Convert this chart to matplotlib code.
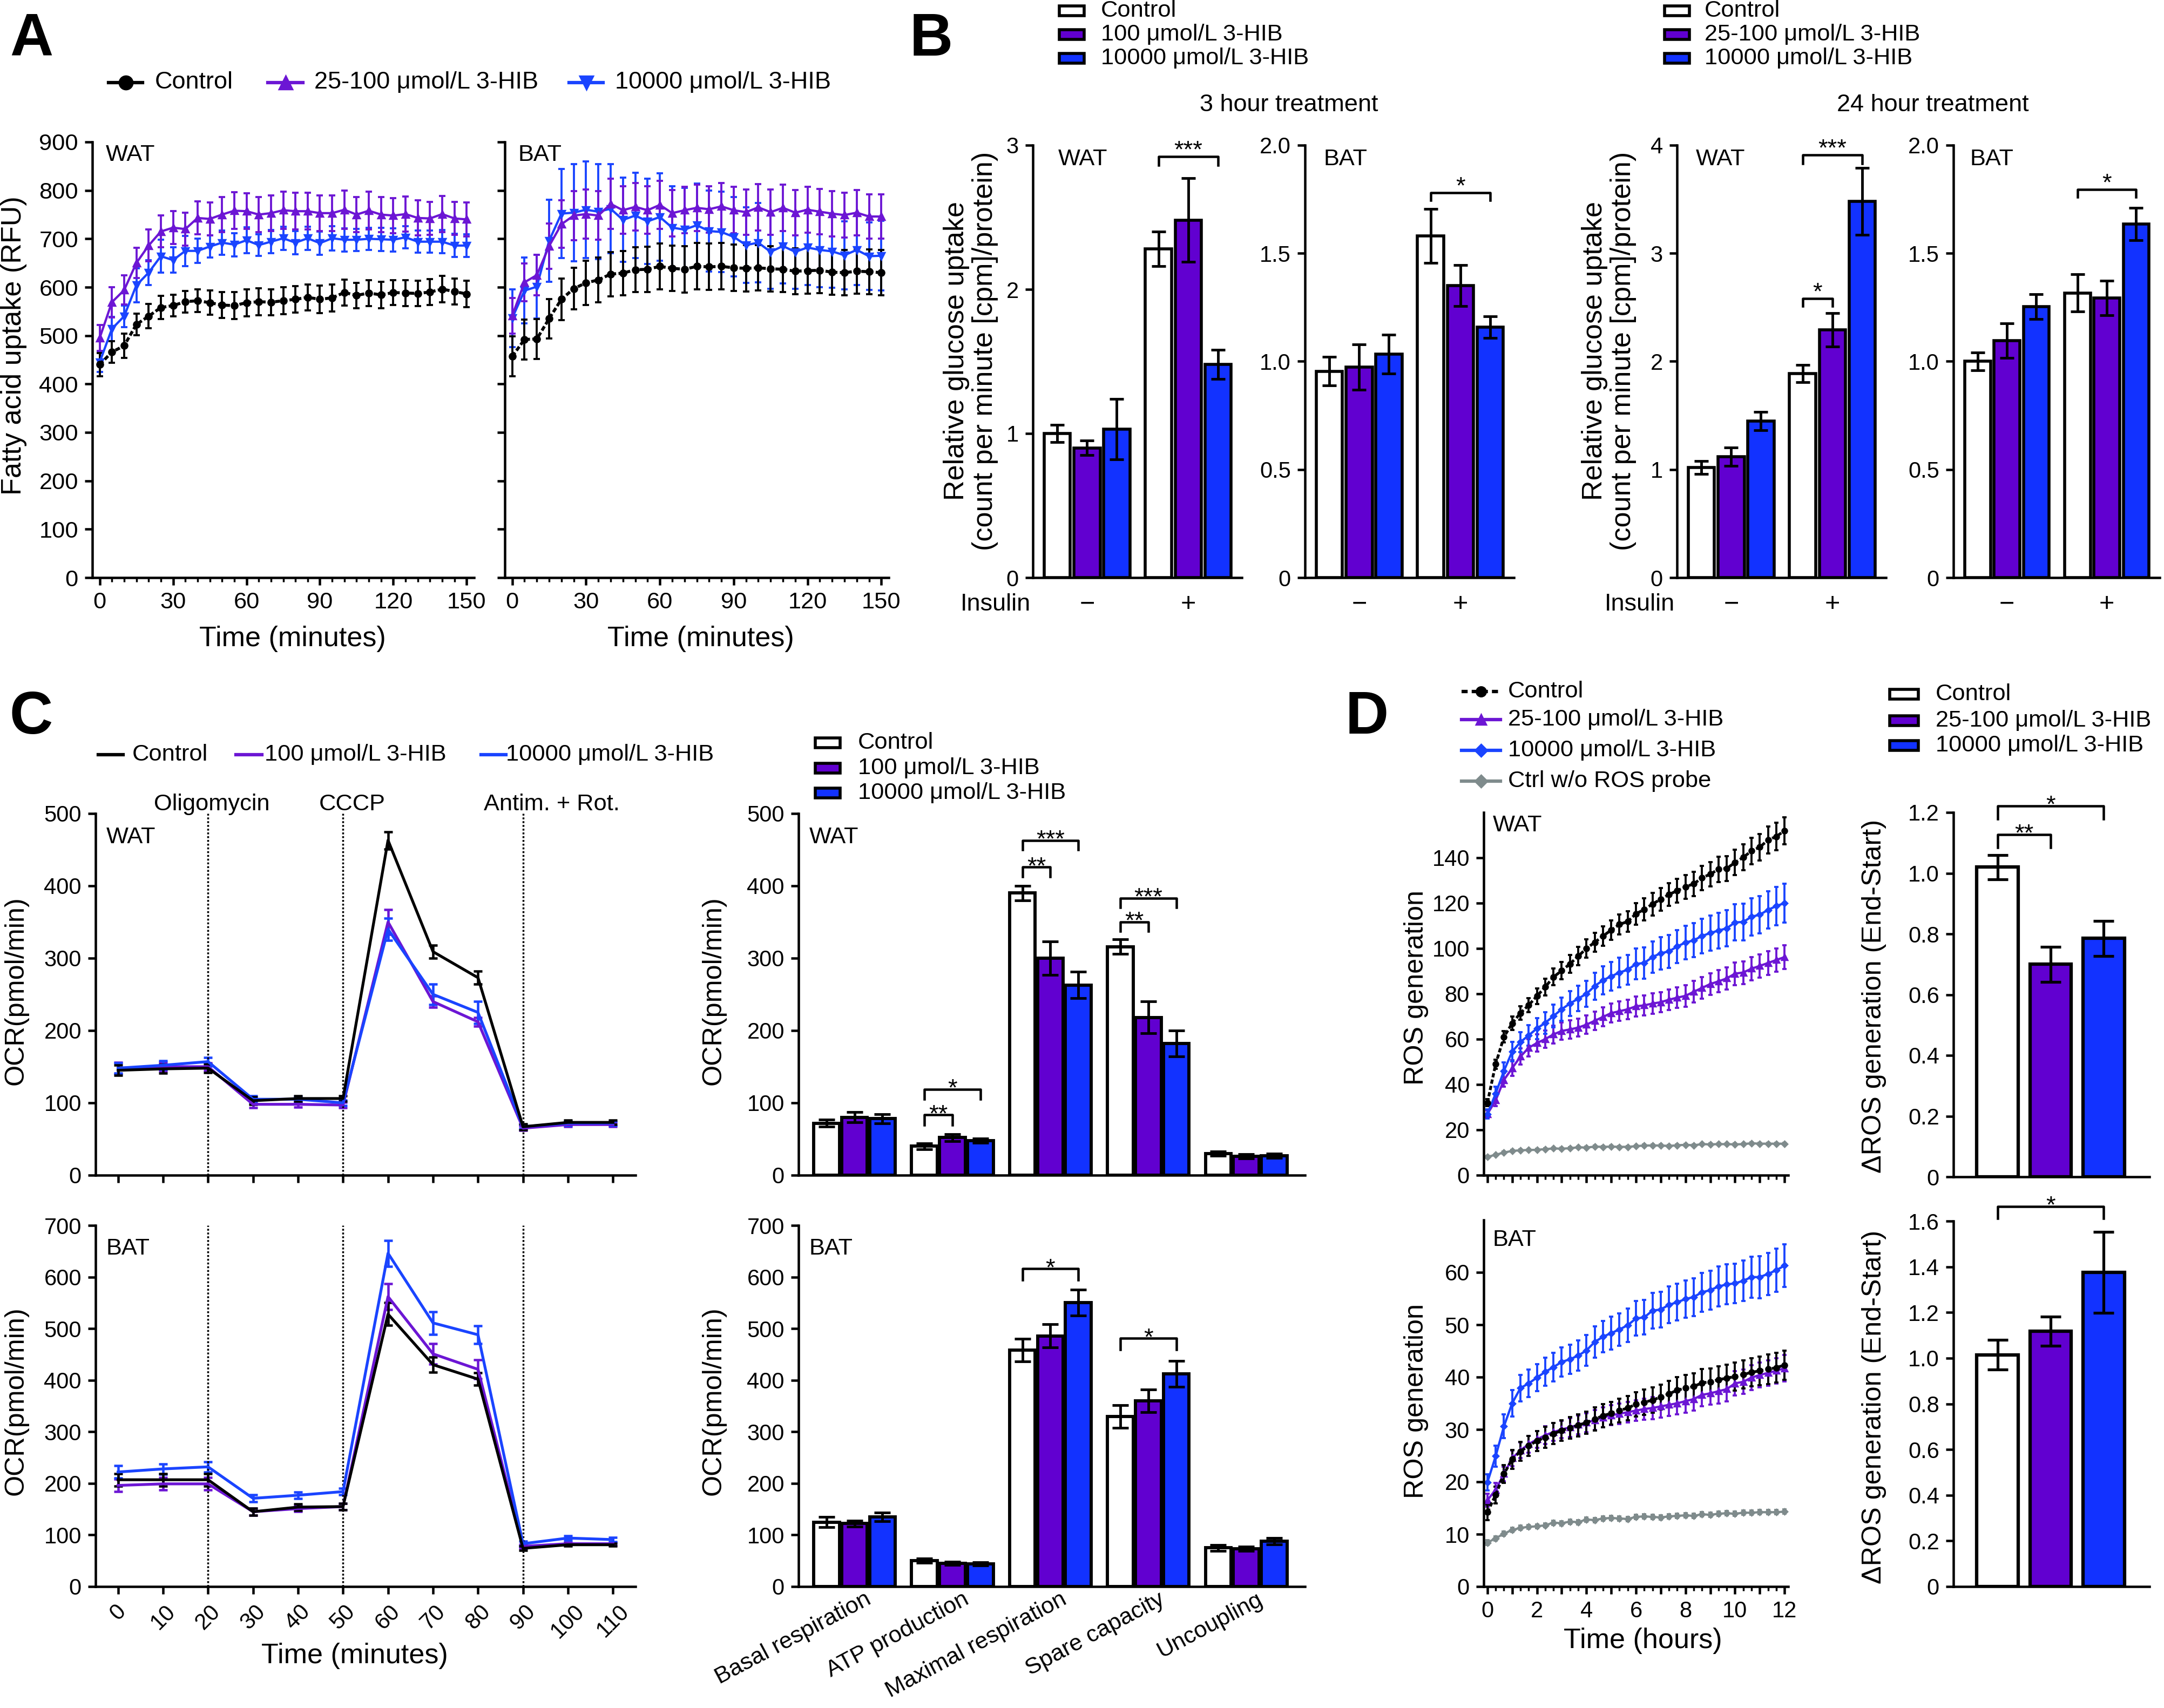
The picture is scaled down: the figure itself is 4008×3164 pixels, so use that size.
import numpy as np
import matplotlib
matplotlib.use('Agg')
import matplotlib.pyplot as plt
from matplotlib.patches import Rectangle
from matplotlib.lines import Line2D
from matplotlib.ticker import MultipleLocator

plt.rcParams['font.family'] = ['Liberation Sans', 'DejaVu Sans']
plt.rcParams['axes.linewidth'] = 1.3
plt.rcParams['xtick.major.width'] = 1.3
plt.rcParams['ytick.major.width'] = 1.3
plt.rcParams['xtick.minor.width'] = 1.0
plt.rcParams['ytick.minor.width'] = 1.0
plt.rcParams['xtick.major.size'] = 4
plt.rcParams['ytick.major.size'] = 4

# ---------------- data ----------------
# A: fatty acid uptake (RFU), every 5 min
t_fa = np.arange(0, 151, 5)
fa_wat_ctrl = [440, 466, 479, 523, 540, 558, 562, 570, 572, 568, 563, 562, 568, 570, 569, 572,
               575, 579, 575, 578, 589, 583, 588, 584, 589, 588, 587, 590, 596, 591, 586]
fa_wat_ctrl_err = [24, 22, 25, 22, 25, 24, 22, 22, 23, 25, 27, 28, 28, 28, 27, 28,
                   27, 27, 28, 28, 27, 26, 27, 27, 26, 27, 26, 27, 27, 27, 27]
fa_wat_low = [495, 569, 594, 650, 686, 715, 723, 720, 743, 741, 750, 758, 757, 750, 753, 759,
              757, 757, 753, 753, 760, 750, 758, 750, 748, 751, 743, 742, 751, 742, 740]
fa_wat_low_err = [27, 31, 30, 31, 33, 33, 34, 34, 34, 34, 36, 38, 37, 36, 37, 38,
                  38, 38, 37, 37, 40, 36, 39, 36, 36, 36, 36, 34, 37, 34, 35]
fa_wat_high = [445, 514, 540, 604, 630, 664, 656, 675, 675, 684, 692, 688, 697, 687, 694, 701,
               692, 701, 691, 701, 698, 698, 700, 699, 698, 703, 694, 694, 694, 686, 686]
fa_wat_high_err = [20, 25, 22, 35, 26, 34, 26, 31, 25, 23, 25, 24, 27, 22, 24, 24,
                   24, 24, 24, 25, 24, 23, 23, 24, 24, 23, 23, 23, 24, 24, 23]
fa_bat_ctrl = [457, 492, 493, 535, 575, 597, 609, 615, 627, 629, 636, 637, 643, 639, 637, 643,
               642, 643, 640, 639, 640, 638, 637, 633, 634, 635, 631, 630, 633, 632, 630]
fa_bat_ctrl_err = [41, 41, 41, 41, 43, 43, 46, 46, 46, 46, 46, 47, 47, 47, 48, 48,
                   48, 48, 48, 48, 47, 47, 47, 47, 47, 47, 47, 47, 46, 46, 47]
fa_bat_low = [541, 610, 625, 685, 730, 748, 751, 748, 772, 759, 766, 759, 770, 753, 759, 764,
              761, 767, 759, 755, 765, 755, 764, 754, 760, 756, 752, 749, 754, 746, 746]
fa_bat_low_err = [37, 39, 42, 47, 49, 51, 51, 50, 52, 49, 49, 49, 50, 48, 48, 48,
                  48, 48, 48, 47, 48, 47, 48, 47, 47, 47, 47, 46, 47, 46, 46]
fa_bat_high = [536, 593, 601, 696, 752, 754, 760, 756, 762, 739, 748, 736, 745, 723, 719, 728,
               716, 714, 704, 687, 692, 673, 685, 673, 682, 677, 674, 666, 677, 664, 665]
fa_bat_high_err = [60, 68, 66, 85, 92, 100, 100, 98, 92, 87, 88, 88, 90, 86, 86, 86,
                   84, 83, 82, 78, 82, 76, 77, 76, 77, 77, 75, 70, 72, 70, 72]

# B: glucose uptake, order Ctrl/low/high (insulin -) then Ctrl/low/high (insulin +)
gu3_wat = [1.00, 0.90, 1.03, 2.28, 2.48, 1.48]
gu3_wat_err = [0.06, 0.05, 0.21, 0.12, 0.29, 0.10]
gu3_bat = [0.955, 0.973, 1.033, 1.58, 1.35, 1.158]
gu3_bat_err = [0.067, 0.105, 0.09, 0.125, 0.095, 0.05]
gu24_wat = [1.02, 1.12, 1.45, 1.89, 2.29, 3.48]
gu24_wat_err = [0.06, 0.085, 0.085, 0.08, 0.155, 0.31]
gu24_bat = [1.00, 1.095, 1.254, 1.317, 1.294, 1.636]
gu24_bat_err = [0.04, 0.08, 0.058, 0.085, 0.08, 0.075]

# C: OCR time course
t_ocr = [0, 10, 20, 30, 40, 50, 60, 70, 80, 90, 100, 110]
ocr_wat_ctrl = [145, 147, 148, 103, 106, 106, 463, 309, 273, 67, 73, 73]
ocr_wat_ctrl_err = [7, 6, 6, 5, 4, 4, 12, 9, 9, 4, 3, 3]
ocr_wat_low = [148, 150, 150, 98, 98, 97, 350, 240, 212, 65, 70, 70]
ocr_wat_low_err = [8, 6, 5, 5, 4, 4, 17, 8, 6, 3, 3, 3]
ocr_wat_high = [148, 152, 157, 105, 105, 100, 340, 250, 225, 67, 72, 72]
ocr_wat_high_err = [7, 6, 6, 5, 4, 4, 15, 14, 15, 3, 3, 3]
ocr_bat_ctrl = [207, 207, 207, 145, 154, 155, 528, 430, 402, 74, 81, 81]
ocr_bat_ctrl_err = [12, 12, 12, 7, 6, 6, 22, 15, 12, 4, 3, 3]
ocr_bat_low = [196, 199, 199, 145, 151, 155, 562, 451, 421, 78, 83, 83]
ocr_bat_low_err = [12, 12, 12, 7, 6, 6, 25, 20, 18, 4, 3, 3]
ocr_bat_high = [222, 228, 232, 171, 177, 184, 646, 511, 488, 83, 94, 91]
ocr_bat_high_err = [12, 10, 10, 7, 6, 6, 25, 22, 17, 5, 4, 4]

# C: OCR parameters
resp_labels = ['Basal respiration', 'ATP production', 'Maximal respiration',
               'Spare capacity', 'Uncoupling']
par_wat_ctrl = [72, 40, 390, 316, 30]
par_wat_ctrl_err = [5, 4, 10, 10, 3]
par_wat_low = [80, 52, 300, 218, 26]
par_wat_low_err = [7, 5, 23, 22, 3]
par_wat_high = [78, 48, 263, 182, 27]
par_wat_high_err = [6, 3, 18, 18, 3]
par_bat_ctrl = [125, 50, 458, 330, 75]
par_bat_ctrl_err = [10, 4, 22, 22, 6]
par_bat_low = [122, 45, 486, 360, 73]
par_bat_low_err = [6, 3, 22, 22, 4]
par_bat_high = [135, 44, 550, 412, 88]
par_bat_high_err = [8, 3, 25, 25, 6]

# D: ROS generation, every 20 min over 12 h
t_ros = np.linspace(0, 12, 37)
ros_wat_ctrl = [32, 49, 61, 67, 71.5, 75, 79, 83, 87.4, 90.2, 93.2, 96.6, 100, 102.7, 105.5, 108.1,
                110.6, 111.9, 115.3, 117.2, 119.6, 121.7, 123.8, 125.5, 127.2, 128.5, 131.1, 132.8,
                134.9, 135.3, 137.9, 140.2, 143, 144.7, 147.8, 149.4, 151.9]
ros_wat_ctrl_err = [1.5, 2, 2.5, 3, 3, 3.2, 3.5, 3.6, 3.7, 3.8, 3.9, 4, 4.1, 4.2, 4.3, 4.4, 4.5, 4.6,
                    4.8, 4.9, 5, 5, 5.1, 5.2, 5.2, 5.3, 5.4, 5.4, 5.5, 5.5, 5.6, 5.7, 5.8, 5.8, 5.9, 6, 6]
ros_wat_low = [27, 33, 42, 47.2, 52.3, 56.2, 58.3, 60, 62.1, 63.6, 64.3, 65.1, 66.4, 68.1, 69.8, 71.5,
               72.3, 73.2, 74.5, 74.9, 75.7, 76.3, 77.4, 78.3, 79.1, 80.9, 82.6, 84.3, 85.5, 86.8,
               88.9, 89.4, 91.1, 92.3, 93.6, 94.9, 96.2]
ros_wat_low_err = [1.5, 2.5, 3, 3.4, 3.6, 3.7, 3.8, 3.8, 3.9, 3.9, 4, 4, 4.1, 4.1, 4.2, 4.2, 4.3, 4.3,
                   4.4, 4.4, 4.5, 4.5, 4.6, 4.6, 4.7, 4.7, 4.8, 4.8, 4.9, 4.9, 5, 5, 5.1, 5.1, 5.2, 5.2, 5.3]
ros_wat_high = [27, 36, 46, 54.5, 58.7, 61.7, 64.7, 67.2, 70.2, 73.2, 75.7, 77.9, 80, 83.4, 86, 87.7,
                89.4, 90.6, 93.2, 93.6, 96.2, 97.9, 98.7, 100.9, 102.6, 103.6, 105.5, 106.8, 107.9,
                108.9, 111.5, 111.7, 114, 114.9, 117, 118.7, 120]
ros_wat_high_err = [2, 3, 3.8, 4.3, 4.5, 4.5, 4.6, 4.8, 5, 5.2, 5.4, 5.6, 5.8, 6, 6.2, 6.3, 6.5, 6.6,
                    6.8, 6.9, 7, 7.1, 7.2, 7.3, 7.4, 7.5, 7.6, 7.7, 7.8, 7.9, 8, 8.1, 8.2, 8.3, 8.3, 8.4, 8.5]
ros_wat_noprobe = [8.1, 9, 10, 10.7, 11, 11.1, 11.2, 11.5, 11.8, 11.7, 11.9, 12.3, 12.2, 12.6, 12.5,
                   12.6, 12.5, 12.5, 12.8, 13.1, 13.1, 13.1, 12.9, 13.2, 13.4, 13.2, 13.7, 13.6, 13.7,
                   13.7, 13.6, 13.7, 14.1, 13.9, 13.9, 13.9, 13.9]
ros_wat_noprobe_err = [0.5, 0.4, 0.4, 0.4, 0.4, 0.4, 0.4, 0.4, 0.4, 0.4, 0.4, 0.4, 0.4, 0.4, 0.4, 0.4,
                       0.4, 0.4, 0.4, 0.4, 0.4, 0.4, 0.4, 0.4, 0.4, 0.4, 0.4, 0.4, 0.4, 0.4, 0.4, 0.4,
                       0.4, 0.4, 0.4, 0.4, 0.4]
ros_bat_ctrl = [14.2, 17.5, 21.5, 24.3, 25.8, 26.9, 27.8, 28.5, 29.2, 29.8, 30.3, 30.8, 31.3, 32, 32.6,
                33.1, 33.6, 34.1, 34.8, 35.2, 35.6, 36.2, 36.8, 37.5, 37.9, 38.2, 38.9, 39.1, 39.5,
                39.8, 40.1, 40.5, 40.9, 41.2, 41.5, 41.8, 42.3]
ros_bat_ctrl_err = [1.5, 1.6, 1.7, 1.8, 1.8, 1.9, 1.9, 2, 2, 2, 2.1, 2.1, 2.1, 2.2, 2.2, 2.2, 2.3, 2.3,
                    2.3, 2.4, 2.4, 2.4, 2.5, 2.5, 2.5, 2.5, 2.6, 2.6, 2.6, 2.6, 2.7, 2.7, 2.7, 2.7, 2.8, 2.8, 2.8]
ros_bat_low = [16.5, 18.5, 21.5, 24.5, 26, 27.2, 28.1, 28.9, 29.5, 30, 30.4, 30.9, 31.3, 31.8, 32.3,
               32.7, 33, 33.3, 33.6, 33.9, 34.1, 34.4, 34.7, 35, 35.4, 35.8, 36.6, 36.9, 37.3, 37.7,
               38.8, 39.1, 39.9, 40.4, 40.8, 41.2, 41.7]
ros_bat_low_err = [1.2, 1.3, 1.4, 1.5, 1.5, 1.6, 1.6, 1.7, 1.7, 1.7, 1.8, 1.8, 1.8, 1.9, 1.9, 1.9, 2,
                   2, 2, 2, 2.1, 2.1, 2.1, 2.1, 2.2, 2.2, 2.2, 2.2, 2.3, 2.3, 2.3, 2.3, 2.4, 2.4, 2.4, 2.4, 2.5]
ros_bat_high = [19.9, 24.9, 30.6, 35, 37.9, 38.8, 39.9, 41, 41.9, 42.9, 43.4, 44.1, 45.1, 46.7, 47.7,
                48.4, 49.1, 49.9, 51.2, 51.4, 52.7, 52.9, 53.8, 54.3, 54.9, 55.3, 56.2, 56.6, 57.3,
                57.7, 57.9, 58.4, 59.1, 59.1, 59.7, 60.4, 61.3]
ros_bat_high_err = [1.5, 2, 2.3, 2.5, 2.5, 2.6, 2.6, 2.7, 2.7, 2.8, 2.8, 2.9, 2.9, 3, 3, 3.1, 3.1, 3.2,
                    3.3, 3.3, 3.4, 3.4, 3.5, 3.5, 3.6, 3.6, 3.7, 3.7, 3.8, 3.8, 3.8, 3.9, 3.9, 4, 4, 4.1, 4.1]
ros_bat_noprobe = [8.4, 9.2, 10.1, 10.8, 11.2, 11.4, 11.5, 11.7, 12.2, 12.1, 12.4, 12.3, 12.8, 12.7,
                   13, 13.1, 13, 12.9, 13.3, 13.4, 13.3, 13.2, 13.4, 13.5, 13.6, 13.5, 13.8, 13.7,
                   13.9, 14, 13.9, 14.1, 14.1, 14.2, 14.2, 14.2, 14.3]
ros_bat_noprobe_err = ros_wat_noprobe_err

# D: delta ROS (end - start), order Ctrl/low/high
dros_wat = [1.02, 0.70, 0.785]
dros_wat_err = [0.04, 0.058, 0.057]
dros_bat = [1.015, 1.118, 1.375]
dros_bat_err = [0.065, 0.063, 0.177]

# ---------------- style ----------------
PURPLE_L = '#6c16d4'
BLUE_L = '#1a44ff'
PURPLE_B = '#6100d0'
BLUE_B = '#1232ff'
GREY = '#7f8b8c'
W, H, DPI = 4008, 3164, 250

fig = plt.figure(figsize=(W / DPI, H / DPI), dpi=DPI)
fig.patch.set_facecolor('white')


def fx(x):
    return x / W


def fy(y):
    return 1 - y / H


def new_ax(x0, y0, x1, y1):
    ax = fig.add_axes([x0 / W, 1 - y1 / H, (x1 - x0) / W, (y1 - y0) / H])
    ax.spines['top'].set_visible(False)
    ax.spines['right'].set_visible(False)
    ax.patch.set_alpha(0)
    return ax


def ftext(x, y, s, **kw):
    fig.text(fx(x), fy(y), s, **kw)


def leg_line(x0, x1, y, color, ls='-', marker=None, ms=7, lw=1.8):
    fig.add_artist(Line2D([fx(x0), fx(x1)], [fy(y), fy(y)], transform=fig.transFigure,
                          color=color, ls=ls, lw=lw))
    if marker:
        fig.add_artist(Line2D([fx((x0 + x1) / 2)], [fy(y)], transform=fig.transFigure,
                              color=color, marker=marker, ms=ms, ls='none'))


def leg_box(x0, y, color, w=46, h=18):
    fig.add_artist(Rectangle((fx(x0), fy(y + h / 2)), w / W, h / H, transform=fig.transFigure,
                             facecolor=color, edgecolor='k', lw=1.6))


def bracket(ax, x1, x2, y, drop, label, fs=13, off=-3):
    ax.plot([x1, x1, x2, x2], [y - drop, y, y, y - drop], color='k', lw=1.3, clip_on=False)
    ax.annotate(label, xy=((x1 + x2) / 2, y), xytext=(0, off), textcoords='offset points',
                ha='center', va='bottom', fontsize=fs, annotation_clip=False)


# ---------------- panel A ----------------
def fa_plot(ax, tissue, ctrl, ce, low, le, high, he, ylabels):
    kw = dict(capsize=1.6, elinewidth=1.1, capthick=1.1, ms=3.2, clip_on=False)
    ax.errorbar(t_fa, high, yerr=he, color=BLUE_L, marker='v', lw=1.2, **kw)
    ax.errorbar(t_fa, low, yerr=le, color=PURPLE_L, marker='^', lw=1.2, **kw)
    ax.errorbar(t_fa, ctrl, yerr=ce, color='k', marker='o', lw=1.6, ls=(0, (1.6, 0.8)), **kw)
    ax.set_xlim(-3, 153)
    ax.set_ylim(0, 900)
    ax.set_xticks(range(0, 151, 30))
    ax.xaxis.set_minor_locator(MultipleLocator(5))
    ax.set_yticks(range(0, 901, 100))
    if not ylabels:
        ax.set_yticklabels([])
    ax.tick_params(labelsize=12.5)
    ax.tick_params(which='minor', length=2.2)
    ax.text(0.035, 0.97, tissue, transform=ax.transAxes, fontsize=12.5, va='center')


ax = new_ax(171, 263, 878, 1070)
fa_plot(ax, 'WAT', fa_wat_ctrl, fa_wat_ctrl_err, fa_wat_low, fa_wat_low_err,
        fa_wat_high, fa_wat_high_err, True)
ax = new_ax(935, 263, 1646, 1070)
fa_plot(ax, 'BAT', fa_bat_ctrl, fa_bat_ctrl_err, fa_bat_low, fa_bat_low_err,
        fa_bat_high, fa_bat_high_err, False)
ftext(26, 640, 'Fatty acid uptake (RFU)', rotation=90, ha='center', va='center', fontsize=15)
ftext(542, 1184, 'Time (minutes)', ha='center', va='center', fontsize=15)
ftext(1298, 1184, 'Time (minutes)', ha='center', va='center', fontsize=15)
leg_line(201, 264, 153, 'k', marker='o', ms=7)
ftext(287, 153, 'Control', va='center', fontsize=13)
leg_line(496, 561, 153, PURPLE_L, marker='^', ms=7)
ftext(582, 153, '25-100 μmol/L 3-HIB', va='center', fontsize=13)
leg_line(1054, 1117, 153, BLUE_L, marker='v', ms=7)
ftext(1139, 153, '10000 μmol/L 3-HIB', va='center', fontsize=13)

# ---------------- panel B ----------------
pos_b = [0, 1, 2, 3.4, 4.4, 5.4]
cols_b = ['white', PURPLE_B, BLUE_B, 'white', PURPLE_B, BLUE_B]


def gu_plot(ax, tissue, vals, errs, ymax, ticks, ticklabels, tx, insulin_label):
    ax.bar(pos_b, vals, width=0.88, color=cols_b, edgecolor='k', linewidth=1.6, zorder=2)
    ax.errorbar(pos_b, vals, yerr=errs, fmt='none', ecolor='k', elinewidth=1.4,
                capsize=3.8, capthick=1.4, zorder=3)
    ax.set_xlim(-0.82, 6.2)
    ax.set_ylim(0, ymax)
    ax.set_xticks([])
    ax.set_yticks(ticks)
    ax.set_yticklabels(ticklabels)
    ax.tick_params(labelsize=12)
    ax.text(tx, 0.967, tissue, transform=ax.transAxes, fontsize=12.5, va='center')
    tr = ax.get_xaxis_transform()
    ax.text(1, -0.062, '−', transform=tr, ha='center', va='center', fontsize=14)
    ax.text(4.4, -0.062, '+', transform=tr, ha='center', va='center', fontsize=14)
    if insulin_label:
        ax.text(-0.9, -0.062, 'Insulin', transform=tr, ha='right', va='center', fontsize=13)


ax = new_ax(1913, 269, 2300, 1070)
gu_plot(ax, 'WAT', gu3_wat, gu3_wat_err, 3, [0, 1, 2, 3], ['0', '1', '2', '3'], 0.12, True)
bracket(ax, 3.4, 5.4, 2.92, 0.06, '***')
ax = new_ax(2417, 269, 2804, 1070)
gu_plot(ax, 'BAT', gu3_bat, gu3_bat_err, 2, [0, 0.5, 1, 1.5, 2],
        ['0', '0.5', '1.0', '1.5', '2.0'], 0.09, False)
bracket(ax, 3.4, 5.4, 1.78, 0.035, '*')
ax = new_ax(3106, 269, 3493, 1070)
gu_plot(ax, 'WAT', gu24_wat, gu24_wat_err, 4, [0, 1, 2, 3, 4], ['0', '1', '2', '3', '4'],
        0.09, True)
bracket(ax, 3.4, 5.4, 3.91, 0.08, '***')
bracket(ax, 3.4, 4.4, 2.58, 0.07, '*')
ax = new_ax(3618, 269, 4000, 1070)
gu_plot(ax, 'BAT', gu24_bat, gu24_bat_err, 2, [0, 0.5, 1, 1.5, 2],
        ['0', '0.5', '1.0', '1.5', '2.0'], 0.08, False)
bracket(ax, 3.4, 5.4, 1.795, 0.035, '*')

for xc in (1798, 2980):
    ftext(xc, 650, 'Relative glucose uptake\n(count per minute [cpm]/protein)', rotation=90,
          ha='center', va='center', fontsize=15, linespacing=1.1, multialignment='center')
ftext(2387, 195, '3 hour treatment', ha='center', va='center', fontsize=13)
ftext(3580, 195, '24 hour treatment', ha='center', va='center', fontsize=13)
for (bx, tx0, labels) in [(1962, 2039, ['Control', '100 μmol/L 3-HIB', '10000 μmol/L 3-HIB']),
                          (3083, 3157, ['Control', '25-100 μmol/L 3-HIB', '10000 μmol/L 3-HIB'])]:
    for yy, col, lab in zip([20, 64, 108], ['white', PURPLE_B, BLUE_B], labels):
        leg_box(bx, yy, col)
        ftext(tx0, yy, lab, va='center', fontsize=12.5)

# ---------------- panel C (time course) ----------------
def ocr_line(ax, tissue, ctrl, ce, low, le, high, he, ymax, xlabels):
    kw = dict(capsize=2.4, elinewidth=1.3, capthick=1.3, lw=1.5, clip_on=False)
    ax.errorbar(t_ocr, low, yerr=le, color=PURPLE_L, **kw)
    ax.errorbar(t_ocr, high, yerr=he, color=BLUE_L, **kw)
    ax.errorbar(t_ocr, ctrl, yerr=ce, color='k', **kw)
    for tv in (20, 50, 90):
        ax.plot([tv, tv], [0, ymax], color='k', ls=(0, (1, 1)), lw=1.0)
    ax.set_xlim(-5, 115)
    ax.set_ylim(0, ymax)
    ax.set_xticks(t_ocr)
    ax.set_yticks(range(0, ymax + 1, 100))
    if xlabels:
        ax.set_xticklabels([str(v) for v in t_ocr], rotation=45)
    else:
        ax.set_xticklabels([])
    ax.tick_params(labelsize=12)
    ax.text(0.02, 0.935, tissue, transform=ax.transAxes, fontsize=12.5, va='center')


ax = new_ax(177, 1507, 1177, 2177)
ocr_line(ax, 'WAT', ocr_wat_ctrl, ocr_wat_ctrl_err, ocr_wat_low, ocr_wat_low_err,
         ocr_wat_high, ocr_wat_high_err, 500, False)
ax = new_ax(177, 2270, 1177, 2939)
ocr_line(ax, 'BAT', ocr_bat_ctrl, ocr_bat_ctrl_err, ocr_bat_low, ocr_bat_low_err,
         ocr_bat_high, ocr_bat_high_err, 700, True)
ftext(30, 1835, 'OCR(pmol/min)', rotation=90, ha='center', va='center', fontsize=14.5)
ftext(30, 2595, 'OCR(pmol/min)', rotation=90, ha='center', va='center', fontsize=14.5)
ftext(657, 3067, 'Time (minutes)', ha='center', va='center', fontsize=15)
ftext(392, 1490, 'Oligomycin', ha='center', va='center', fontsize=12.5)
ftext(652, 1490, 'CCCP', ha='center', va='center', fontsize=12.5)
ftext(1022, 1490, 'Antim. + Rot.', ha='center', va='center', fontsize=12.5)
leg_line(182, 228, 1398, 'k')
ftext(245, 1398, 'Control', va='center', fontsize=12.5)
leg_line(437, 485, 1398, PURPLE_L)
ftext(490, 1398, '100 μmol/L 3-HIB', va='center', fontsize=12.5)
leg_line(891, 937, 1398, BLUE_L)
ftext(937, 1398, '10000 μmol/L 3-HIB', va='center', fontsize=12.5)

# ---------------- panel C (parameters) ----------------
grp = np.arange(5) * 3.5


def ocr_bar(ax, tissue, ctrl, ce, low, le, high, he, ymax, xlabels):
    for j, (v, e, c) in enumerate([(ctrl, ce, 'white'), (low, le, PURPLE_B), (high, he, BLUE_B)]):
        ax.bar(grp + j, v, width=0.92, color=c, edgecolor='k', linewidth=1.7, zorder=2)
        ax.errorbar(grp + j, v, yerr=e, fmt='none', ecolor='k', elinewidth=1.4,
                    capsize=4.3, capthick=1.4, zorder=3)
    ax.set_xlim(-1.0, 17.1)
    ax.set_ylim(0, ymax)
    ax.set_yticks(range(0, ymax + 1, 100))
    ax.set_xticks(grp + 1.35)
    if xlabels:
        ax.set_xticklabels(resp_labels, rotation=28, ha='right', rotation_mode='anchor',
                           fontsize=12.4)
    else:
        ax.set_xticklabels([])
    ax.tick_params(axis='x', length=0, pad=1)
    ax.tick_params(axis='y', labelsize=12)
    ax.text(0.021, 0.935, tissue, transform=ax.transAxes, fontsize=12.5, va='center')


ax = new_ax(1479, 1507, 2417, 2177)
ocr_bar(ax, 'WAT', par_wat_ctrl, par_wat_ctrl_err, par_wat_low, par_wat_low_err,
        par_wat_high, par_wat_high_err, 500, False)
bracket(ax, 3.5, 4.5, 83.5, 14, '**', off=-6)
bracket(ax, 3.5, 5.5, 119, 14, '*', off=-6)
bracket(ax, 7, 8, 426, 13, '**', off=-6)
bracket(ax, 7, 9, 463, 13, '***', off=-6)
bracket(ax, 10.5, 11.5, 350, 13, '**', off=-6)
bracket(ax, 10.5, 12.5, 383, 13, '***', off=-6)
ax = new_ax(1479, 2270, 2417, 2939)
ocr_bar(ax, 'BAT', par_bat_ctrl, par_bat_ctrl_err, par_bat_low, par_bat_low_err,
        par_bat_high, par_bat_high_err, 700, True)
bracket(ax, 7, 9, 616, 22, '*', off=-6)
bracket(ax, 10.5, 12.5, 481, 22, '*', off=-6)
ftext(1322, 1835, 'OCR(pmol/min)', rotation=90, ha='center', va='center', fontsize=14.5)
ftext(1322, 2595, 'OCR(pmol/min)', rotation=90, ha='center', va='center', fontsize=14.5)
for yy, col, lab in zip([1376, 1423, 1469], ['white', PURPLE_B, BLUE_B],
                        ['Control', '100 μmol/L 3-HIB', '10000 μmol/L 3-HIB']):
    leg_box(1510, yy, col)
    ftext(1589, yy, lab, va='center', fontsize=12.5)

# ---------------- panel D (time course) ----------------
def ros_line(ax, tissue, ctrl, ce, low, le, high, he, noprobe, ne, ymax, ytop, xlabels):
    kw = dict(capsize=1.2, elinewidth=1.1, capthick=1.1, clip_on=False)
    ax.errorbar(t_ros, noprobe, yerr=ne, color=GREY, marker='D', ms=2.2, lw=1.2, **kw)
    ax.errorbar(t_ros, low, yerr=le, color=PURPLE_L, marker='^', ms=2.6, lw=1.2, **kw)
    ax.errorbar(t_ros, high, yerr=he, color=BLUE_L, marker='D', ms=2.2, lw=1.2, **kw)
    ax.errorbar(t_ros, ctrl, yerr=ce, color='k', marker='o', ms=2.6, lw=1.5,
                ls=(0, (1.5, 0.8)), **kw)
    ax.set_xlim(-0.15, 12.15)
    ax.set_ylim(0, ytop)
    ax.set_yticks(np.arange(0, ymax + 1, 20 if ymax > 100 else 10))
    ax.set_xticks(range(13))
    if xlabels:
        ax.set_xticklabels([str(i) if i % 2 == 0 else '' for i in range(13)])
    else:
        ax.set_xticklabels([])
    ax.xaxis.set_minor_locator(MultipleLocator(1 / 3))
    ax.tick_params(which='minor', length=2.2)
    ax.tick_params(labelsize=12)
    ax.text(0.03, tissue[1], tissue[0], transform=ax.transAxes, fontsize=12.5, va='center')


ax = new_ax(2748, 1505, 3312, 2177)
ros_line(ax, ('WAT', 0.964), ros_wat_ctrl, ros_wat_ctrl_err, ros_wat_low, ros_wat_low_err,
         ros_wat_high, ros_wat_high_err, ros_wat_noprobe, ros_wat_noprobe_err, 140, 160, False)
ax = new_ax(2748, 2260, 3312, 2939)
ros_line(ax, ('BAT', 0.945), ros_bat_ctrl, ros_bat_ctrl_err, ros_bat_low, ros_bat_low_err,
         ros_bat_high, ros_bat_high_err, ros_bat_noprobe, ros_bat_noprobe_err, 60, 70, True)
ftext(2623, 1830, 'ROS generation', rotation=90, ha='center', va='center', fontsize=14.5)
ftext(2623, 2595, 'ROS generation', rotation=90, ha='center', va='center', fontsize=14.5)
ftext(3043, 3039, 'Time (hours)', ha='center', va='center', fontsize=15)
leg_line(2707, 2779, 1281, 'k', ls=(0, (1.8, 1.2)), marker='o', ms=5)
ftext(2793, 1281, 'Control', va='center', fontsize=12.5)
leg_line(2707, 2779, 1333, PURPLE_L, marker='^', ms=5)
ftext(2793, 1333, '25-100 μmol/L 3-HIB', va='center', fontsize=12.5)
leg_line(2707, 2779, 1390, BLUE_L, marker='D', ms=4.5)
ftext(2793, 1390, '10000 μmol/L 3-HIB', va='center', fontsize=12.5)
leg_line(2707, 2779, 1447, GREY, marker='D', ms=4.5)
ftext(2793, 1447, 'Ctrl w/o ROS probe', va='center', fontsize=12.5)

# ---------------- panel D (delta ROS) ----------------
pos_d = [0, 1, 2]
cols_d = ['white', PURPLE_B, BLUE_B]


def dros_bar(ax, vals, errs, ymax):
    ax.bar(pos_d, vals, width=0.78, color=cols_d, edgecolor='k', linewidth=1.8, zorder=2)
    ax.errorbar(pos_d, vals, yerr=errs, fmt='none', ecolor='k', elinewidth=1.5,
                capsize=5.5, capthick=1.5, zorder=3)
    ax.set_xlim(-0.83, 2.86)
    ax.set_ylim(0, ymax)
    ax.set_xticks([])
    ticks = np.arange(0, ymax + 0.01, 0.2)
    ax.set_yticks(ticks)
    ax.set_yticklabels(['0'] + ['%.1f' % v for v in ticks[1:]])
    ax.tick_params(labelsize=12)


ax = new_ax(3618, 1505, 3981, 2180)
dros_bar(ax, dros_wat, dros_wat_err, 1.2)
bracket(ax, 0, 1, 1.128, 0.043, '**', off=-6)
bracket(ax, 0, 2, 1.222, 0.044, '*', off=-6)
ax = new_ax(3618, 2262, 3981, 2939)
dros_bar(ax, dros_bat, dros_bat_err, 1.6)
bracket(ax, 0, 2, 1.664, 0.053, '*', off=-6)
ftext(3471, 1845, 'ΔROS generation (End-Start)', rotation=90, ha='center', va='center',
      fontsize=14.5)
ftext(3471, 2606, 'ΔROS generation (End-Start)', rotation=90, ha='center', va='center',
      fontsize=14.5)
for yy, col, lab in zip([1286, 1335, 1381], ['white', PURPLE_B, BLUE_B],
                        ['Control', '25-100 μmol/L 3-HIB', '10000 μmol/L 3-HIB']):
    leg_box(3500, yy, col, w=53)
    ftext(3585, yy, lab, va='center', fontsize=12.5)

# ---------------- panel letters ----------------
for lx, ly, lab in [(18, 22, 'A'), (1685, 22, 'B'), (18, 1278, 'C'), (2492, 1278, 'D')]:
    ftext(lx, ly, lab, fontsize=32, fontweight='bold', va='top', ha='left')

fig.savefig('out.png', dpi=DPI)
